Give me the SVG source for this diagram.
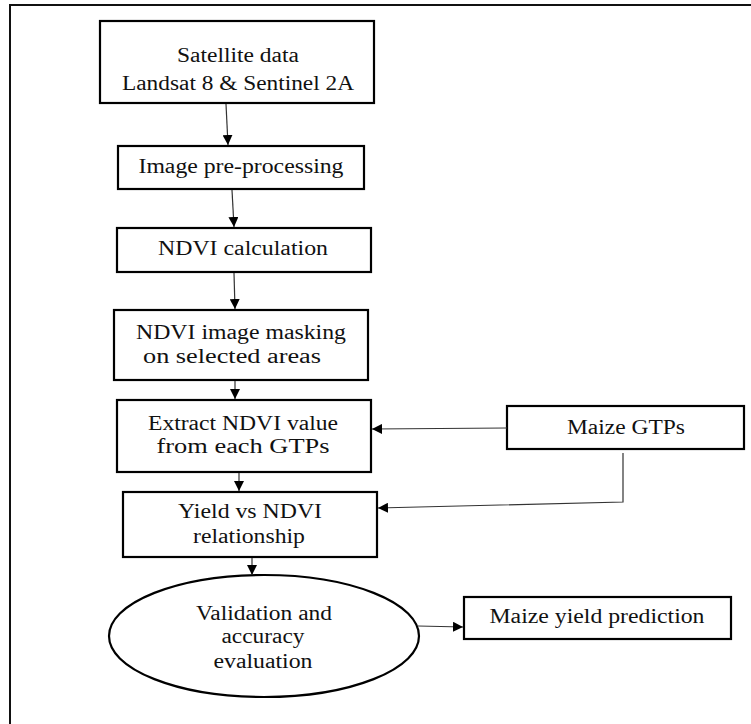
<svg xmlns="http://www.w3.org/2000/svg" width="751" height="724" viewBox="0 0 751 724">
<defs>
<style>
.box{fill:#fff;stroke:#000;stroke-width:2.2}
.t{font-family:"Liberation Serif","Times New Roman",serif;font-size:20px;fill:#111;text-anchor:middle}
.c{fill:none;stroke:#333;stroke-width:1.2}
</style>
<marker id="ah" viewBox="0 0 10 10" refX="10" refY="5" markerWidth="10" markerHeight="10" markerUnits="userSpaceOnUse" orient="auto">
<path d="M0,0 L10,5 L0,10 Z" fill="#000"/>
</marker>
</defs>
<rect width="751" height="724" fill="#fff"/>
<path d="M10,724 V5 H751" fill="none" stroke="#111" stroke-width="2"/>

<g id="n1">
<rect class="box" x="100" y="21" width="274" height="82"/>
<text class="t" x="238" y="62" textLength="122" lengthAdjust="spacingAndGlyphs">Satellite data</text>
<text class="t" x="238" y="90" textLength="232" lengthAdjust="spacingAndGlyphs">Landsat 8 &amp; Sentinel 2A</text>
</g>
<g id="n2">
<rect class="box" x="118" y="146" width="246" height="43"/>
<text class="t" x="241" y="173" textLength="205" lengthAdjust="spacingAndGlyphs">Image pre-processing</text>
</g>
<g id="n3">
<rect class="box" x="117" y="228" width="254" height="44"/>
<text class="t" x="243" y="255" textLength="170" lengthAdjust="spacingAndGlyphs">NDVI calculation</text>
</g>
<g id="n4">
<rect class="box" x="114" y="310" width="254" height="70"/>
<text class="t" x="241" y="339" textLength="210" lengthAdjust="spacingAndGlyphs">NDVI image masking</text>
<text class="t" x="232" y="363" textLength="178" lengthAdjust="spacingAndGlyphs">on selected areas</text>
</g>
<g id="n5">
<rect class="box" x="117" y="400" width="254" height="72"/>
<text class="t" x="243" y="430" textLength="190" lengthAdjust="spacingAndGlyphs">Extract NDVI value</text>
<text class="t" x="243" y="453" textLength="173" lengthAdjust="spacingAndGlyphs">from each GTPs</text>
</g>
<g id="n6">
<rect class="box" x="507" y="406" width="237" height="43"/>
<text class="t" x="626" y="434" textLength="118" lengthAdjust="spacingAndGlyphs">Maize GTPs</text>
</g>
<g id="n7">
<rect class="box" x="123" y="492" width="254" height="65"/>
<text class="t" x="250" y="518" textLength="144" lengthAdjust="spacingAndGlyphs">Yield vs NDVI</text>
<text class="t" x="249" y="543" textLength="112" lengthAdjust="spacingAndGlyphs">relationship</text>
</g>
<g id="n8">
<ellipse class="box" cx="264" cy="636" rx="155" ry="61"/>
<text class="t" x="264" y="620" textLength="136" lengthAdjust="spacingAndGlyphs">Validation and</text>
<text class="t" x="263" y="643" textLength="83" lengthAdjust="spacingAndGlyphs">accuracy</text>
<text class="t" x="263" y="668" textLength="99" lengthAdjust="spacingAndGlyphs">evaluation</text>
</g>
<g id="n9">
<rect class="box" x="464" y="597" width="267" height="42"/>
<text class="t" x="597" y="623" textLength="215" lengthAdjust="spacingAndGlyphs">Maize yield prediction</text>
</g>

<g id="connectors">
<path class="c" d="M226,104 L228,145" marker-end="url(#ah)"/>
<path class="c" d="M232,190 L234,227" marker-end="url(#ah)"/>
<path class="c" d="M234,273 L235,309" marker-end="url(#ah)"/>
<path class="c" d="M235,381 L235,399" marker-end="url(#ah)"/>
<path class="c" d="M239,473 L239,491" marker-end="url(#ah)"/>
<path class="c" d="M252,558 L252,575" marker-end="url(#ah)"/>
<path class="c" d="M507,428 L372,429" marker-end="url(#ah)"/>
<path class="c" d="M623,453 L623,502 L378,508" marker-end="url(#ah)"/>
<path class="c" d="M418,626 L463,627" marker-end="url(#ah)"/>
</g>
</svg>
